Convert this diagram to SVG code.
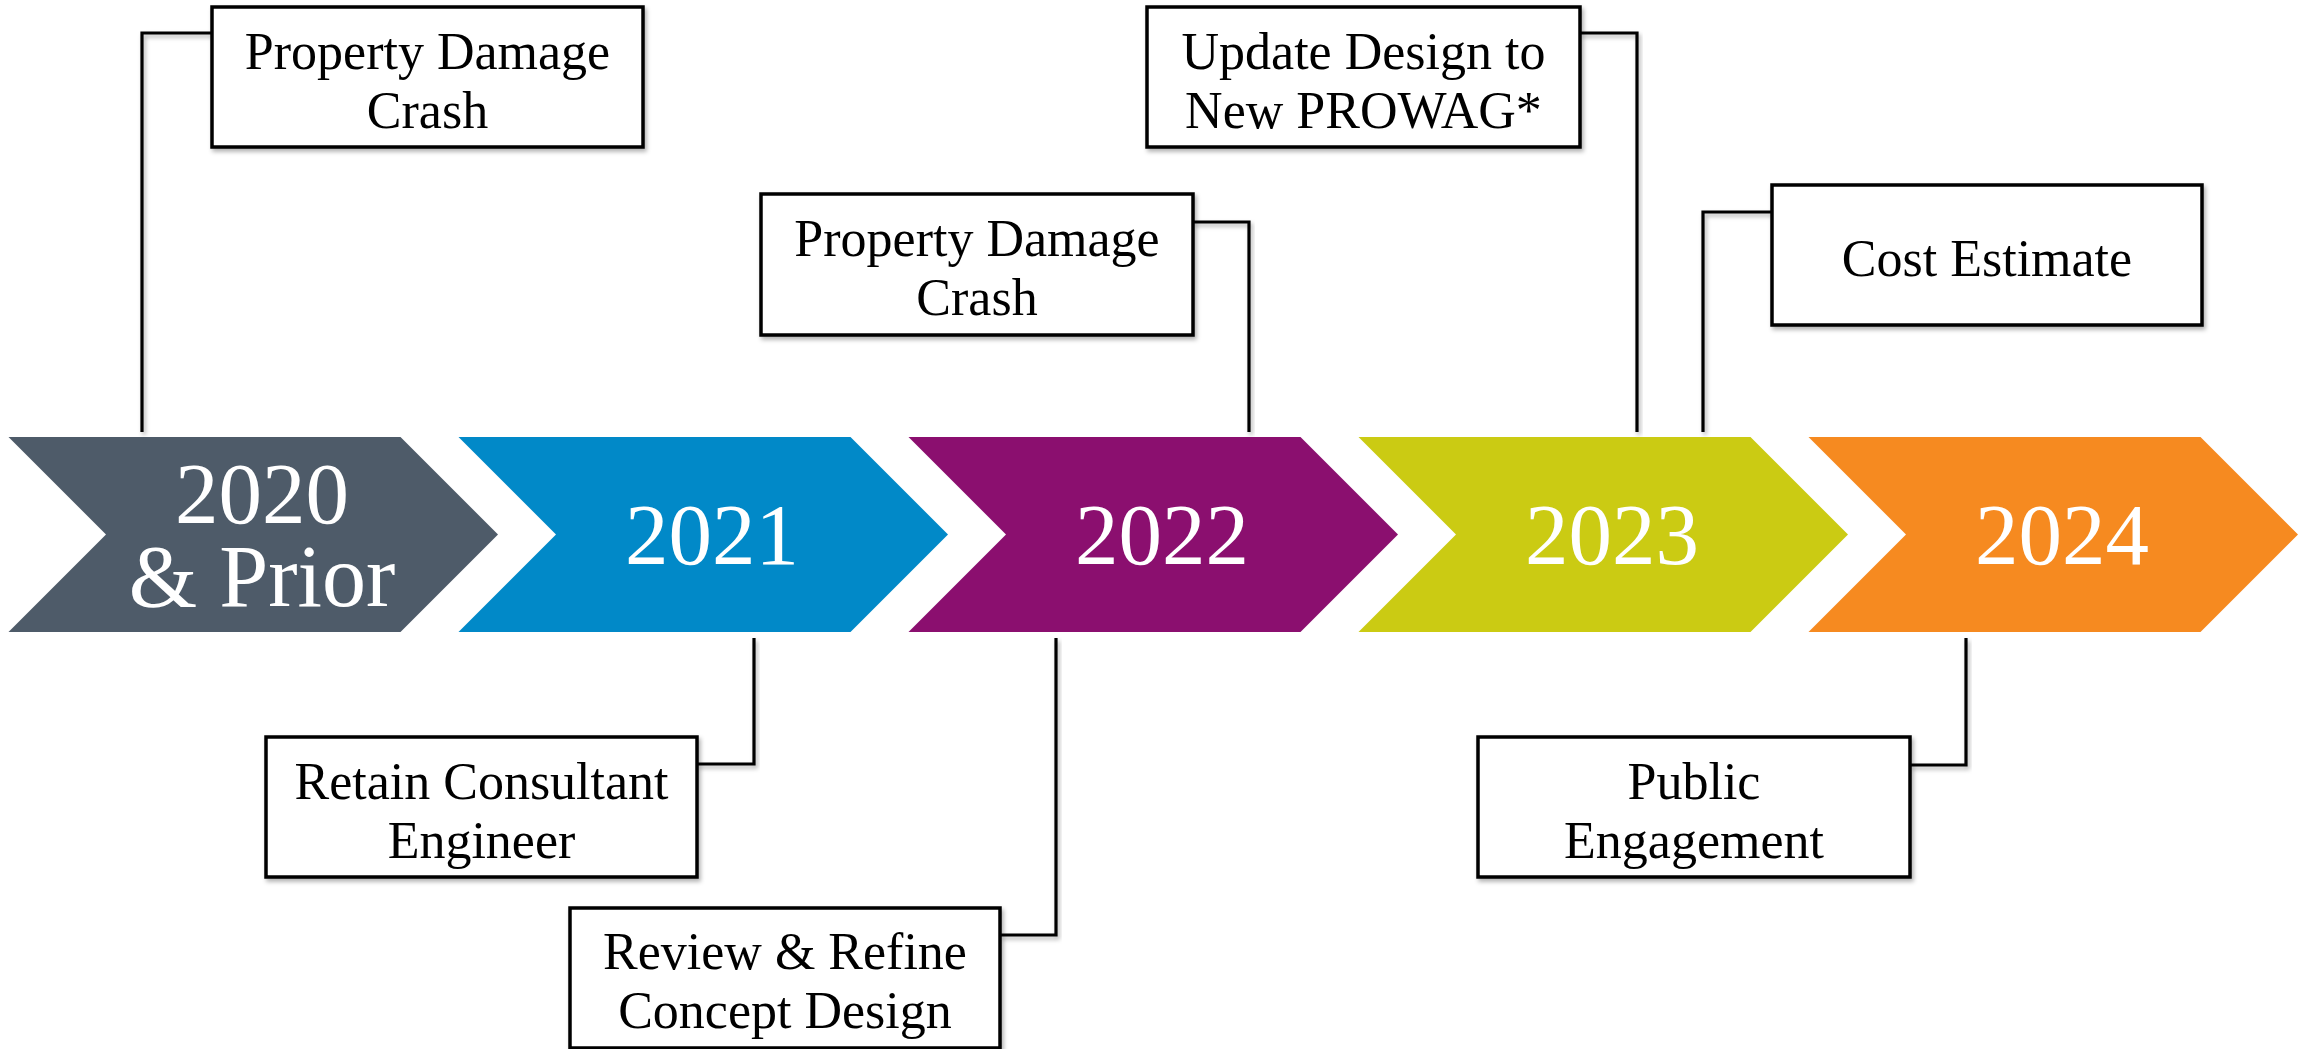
<svg xmlns="http://www.w3.org/2000/svg" width="2305" height="1049" viewBox="0 0 2305 1049">
<defs>
<filter id="sh" x="-10%" y="-10%" width="120%" height="130%">
<feDropShadow dx="2" dy="3" stdDeviation="2" flood-color="#000" flood-opacity="0.3"/>
</filter>
</defs>
<style>
.yr{font-family:"Liberation Serif","Times New Roman",serif;font-size:87px;fill:#fff;text-anchor:middle}
.pr{font-size:88px}
.box{fill:#fff;stroke:#000;stroke-width:3.5;filter:url(#sh)}
.lbl{font-family:"Liberation Serif","Times New Roman",serif;font-size:52px;fill:#000;text-anchor:middle}
.con{fill:none;stroke:#000;stroke-width:3.2;filter:url(#sh)}
</style>
<rect width="2305" height="1049" fill="#fff"/>

<g id="connectors">
<polyline class="con" points="212,33 142,33 142,432"/>
<polyline class="con" points="1580,33 1637,33 1637,432"/>
<polyline class="con" points="1193,222 1249,222 1249,432"/>
<polyline class="con" points="1772,212 1703,212 1703,432"/>
<polyline class="con" points="754,638 754,764 697,764"/>
<polyline class="con" points="1056,638 1056,935 1000,935"/>
<polyline class="con" points="1966,638 1966,765 1910,765"/>
</g>

<g id="y2020">
<polygon fill="#4e5b69" points="8.5,437 400.5,437 498,534.5 400.5,632 8.5,632 106,534.5"/>
<text class="yr"><tspan x="262" y="523">2020</tspan><tspan class="pr" x="262" y="606">&amp; Prior</tspan></text>
</g>
<g id="y2021">
<polygon fill="#0189c8" points="458.5,437 850.5,437 948,534.5 850.5,632 458.5,632 556,534.5"/>
<text class="yr" x="712" y="564">2021</text>
</g>
<g id="y2022">
<polygon fill="#8b0f6f" points="908.5,437 1300.5,437 1398,534.5 1300.5,632 908.5,632 1006,534.5"/>
<text class="yr" x="1162" y="564">2022</text>
</g>
<g id="y2023">
<polygon fill="#cbcb13" points="1358.5,437 1750.5,437 1848,534.5 1750.5,632 1358.5,632 1456,534.5"/>
<text class="yr" x="1612" y="564">2023</text>
</g>
<g id="y2024">
<polygon fill="#f68a20" points="1808.5,437 2200.5,437 2298,534.5 2200.5,632 1808.5,632 1906,534.5"/>
<text class="yr" x="2062" y="564">2024</text>
</g>

<g id="crash2020">
<rect class="box" x="212" y="7" width="431" height="140"/>
<text class="lbl" x="427.5" y="69">Property Damage</text>
<text class="lbl" x="427.5" y="128">Crash</text>
</g>
<g id="prowag">
<rect class="box" x="1147" y="7" width="433" height="140"/>
<text class="lbl" x="1363.5" y="69">Update Design to</text>
<text class="lbl" x="1363.5" y="128">New PROWAG*</text>
</g>
<g id="crash2022">
<rect class="box" x="761" y="194" width="432" height="141"/>
<text class="lbl" x="977" y="256">Property Damage</text>
<text class="lbl" x="977" y="315">Crash</text>
</g>
<g id="cost">
<rect class="box" x="1772" y="185" width="430" height="140"/>
<text class="lbl" x="1987" y="276">Cost Estimate</text>
</g>
<g id="retain">
<rect class="box" x="266" y="737" width="431" height="140"/>
<text class="lbl" x="481.5" y="799">Retain Consultant</text>
<text class="lbl" x="481.5" y="858">Engineer</text>
</g>
<g id="review">
<rect class="box" x="570" y="908" width="430" height="140"/>
<text class="lbl" x="785" y="969">Review &amp; Refine</text>
<text class="lbl" x="785" y="1028">Concept Design</text>
</g>
<g id="public">
<rect class="box" x="1478" y="737" width="432" height="140"/>
<text class="lbl" x="1694" y="799">Public</text>
<text class="lbl" x="1694" y="858">Engagement</text>
</g>
</svg>
